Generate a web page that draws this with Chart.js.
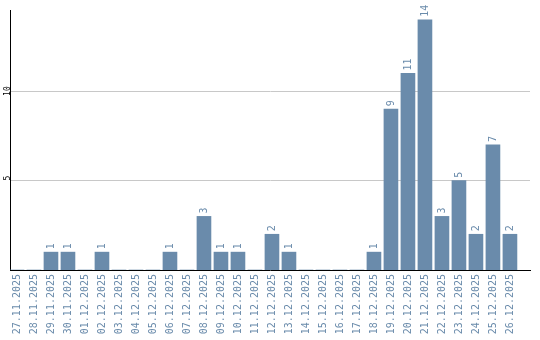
<!DOCTYPE html>
<html>
<head>
<meta charset="utf-8">
<script src="https://cdn.jsdelivr.net/npm/chart.js@4/dist/chart.umd.min.js"></script>
<style>
html,body{margin:0;padding:0;background:#fff;}
canvas{display:block;}
</style>
</head>
<body>
<canvas id="c" width="540" height="340"></canvas>
<script>
const labels = ['27.11.2025','28.11.2025','29.11.2025','30.11.2025','01.12.2025','02.12.2025','03.12.2025','04.12.2025','05.12.2025','06.12.2025','07.12.2025','08.12.2025','09.12.2025','10.12.2025','11.12.2025','12.12.2025','13.12.2025','14.12.2025','15.12.2025','16.12.2025','17.12.2025','18.12.2025','19.12.2025','20.12.2025','21.12.2025','22.12.2025','23.12.2025','24.12.2025','25.12.2025','26.12.2025'];
const values = [0,0,1,1,0,1,0,0,0,1,0,3,1,1,0,2,1,0,0,0,0,1,9,11,14,3,5,2,7,2];
const yTicks = [5, 10];

const barColor = '#6a8bab';
const labelColor = '#6a8bab';
const monoFont = 'DejaVu Sans Mono';

const valueLabels = {
  id: 'valueLabels',
  afterDatasetsDraw(chart) {
    const ctx = chart.ctx;
    const meta = chart.getDatasetMeta(0);
    ctx.save();
    ctx.fillStyle = labelColor;
    ctx.font = '10px "' + monoFont + '"';
    ctx.textAlign = 'left';
    ctx.textBaseline = 'middle';
    meta.data.forEach((bar, i) => {
      const v = values[i];
      if (!v) return;
      ctx.save();
      ctx.translate(bar.x, bar.y - 3);
      ctx.rotate(-Math.PI / 2);
      ctx.fillText(String(v), 0, 0);
      ctx.restore();
    });
    ctx.restore();
  }
};

new Chart(document.getElementById('c'), {
  type: 'bar',
  data: {
    datasets: [{
      data: values.map((v, i) => ({x: i, y: v})),
      backgroundColor: barColor,
      borderWidth: 0,
      barThickness: 14
    }]
  },
  options: {
    responsive: false,
    animation: false,
    layout: {padding: {top: 10, right: 10, left: 0, bottom: 0}},
    plugins: {legend: {display: false}, tooltip: {enabled: false}},
    scales: {
      x: {
        type: 'linear',
        offset: false,
        min: -0.41,
        max: 30.18,
        afterBuildTicks(scale) { scale.ticks = labels.map((_, i) => ({value: i})); },
        afterFit(scale) { scale.height = 70; },
        grid: {display: false, drawTicks: false},
        border: {color: '#000', width: 1},
        ticks: {
          autoSkip: false,
          minRotation: 90,
          maxRotation: 90,
          padding: 4,
          color: labelColor,
          font: {family: monoFont, size: 10},
          callback: (v) => labels[v] ?? ''
        }
      },
      y: {
        min: 0,
        max: 14.55,
        afterBuildTicks(scale) { scale.ticks = yTicks.map(v => ({value: v})); },
        afterFit(scale) { scale.width = 10; },
        grid: {color: '#c8c8c8', drawTicks: false},
        border: {color: '#000', width: 1},
        ticks: {
          minRotation: 90,
          maxRotation: 90,
          padding: 2,
          labelOffset: -5,
          color: '#000',
          font: {family: monoFont, size: 8}
        }
      }
    }
  },
  plugins: [valueLabels]
});
</script>
</body>
</html>
